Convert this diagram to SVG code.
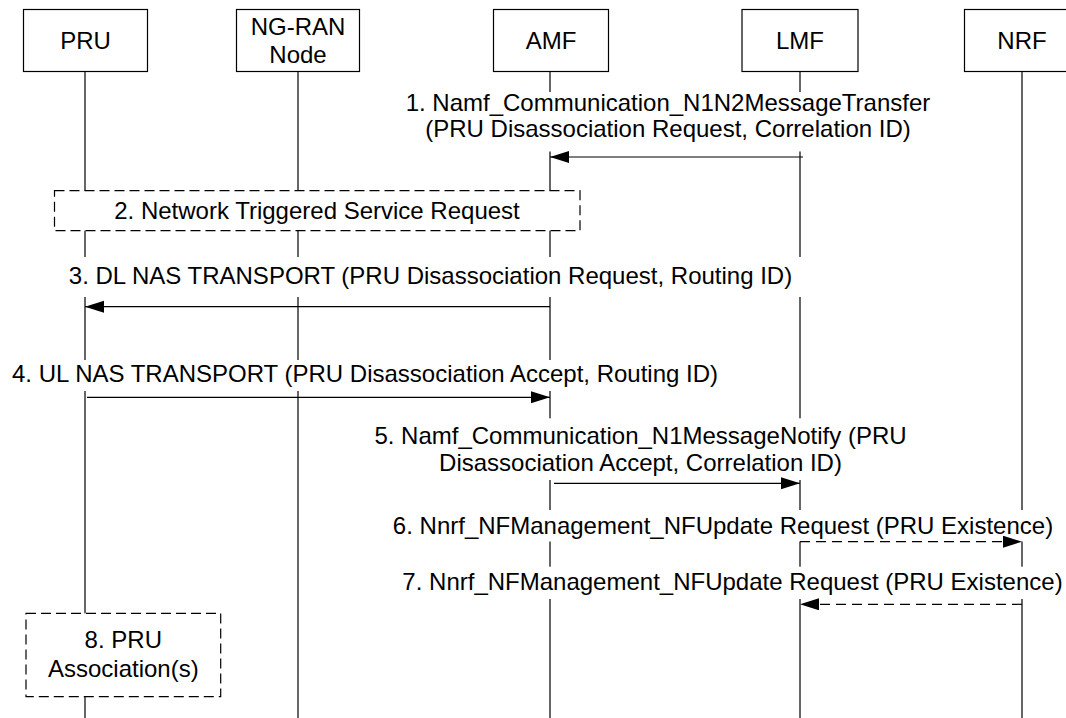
<svg xmlns="http://www.w3.org/2000/svg" width="1066" height="718" viewBox="0 0 1066 718">
  <defs>
    <style>
      .box { fill: #ffffff; stroke: #000000; stroke-width: 1.2; }
      .life { stroke: #000000; stroke-width: 1.2; fill: none; }
      .dbox { fill: #ffffff; stroke: #000000; stroke-width: 1.2; stroke-dasharray: 10 5; }
      .bg { fill: #ffffff; stroke: none; }
      .msg { stroke: #000000; stroke-width: 1.2; fill: none; }
      .dash { stroke-dasharray: 10 6; }
      text { font-family: "Liberation Sans", Arial, sans-serif; font-size: 24px; fill: #000000; }
      .c { text-anchor: middle; }
    </style>
    <marker id="ah" markerUnits="userSpaceOnUse" markerWidth="20" markerHeight="13" refX="19" refY="6" orient="auto">
      <path d="M0,0 L19,6 L0,12 Z" fill="#000000"/>
    </marker>
  </defs>
  <rect width="1066" height="718" fill="#ffffff"/>

  <g id="node-pru">
    <line class="life" x1="85" y1="71.5" x2="85" y2="718"/>
    <rect class="box" x="23.5" y="9.5" width="124" height="62"/>
    <text class="c" x="85.5" y="49">PRU</text>
  </g>
  <g id="node-ngran">
    <line class="life" x1="298" y1="71.5" x2="298" y2="718"/>
    <rect class="box" x="236.5" y="9.5" width="123" height="62"/>
    <text class="c" x="298" y="35">NG-RAN</text>
    <text class="c" x="298" y="62.5">Node</text>
  </g>
  <g id="node-amf">
    <line class="life" x1="550" y1="71.5" x2="550" y2="718"/>
    <rect class="box" x="493.5" y="9.5" width="115" height="62"/>
    <text class="c" x="551" y="49">AMF</text>
  </g>
  <g id="node-lmf">
    <line class="life" x1="800" y1="71.5" x2="800" y2="718"/>
    <rect class="box" x="742" y="9.5" width="116" height="62"/>
    <text class="c" x="800" y="49">LMF</text>
  </g>
  <g id="node-nrf">
    <line class="life" x1="1022" y1="71.5" x2="1022" y2="718"/>
    <rect class="box" x="964.5" y="9.5" width="120" height="62"/>
    <text class="c" x="1022" y="49">NRF</text>
  </g>

  <g id="connectors">
    <g id="msg1">
      <rect class="bg" x="400" y="92" width="535" height="59.5"/>
      <text class="c" x="668" y="110.5">1. Namf_Communication_N1N2MessageTransfer</text>
      <text class="c" x="668" y="136.5">(PRU Disassociation Request, Correlation ID)</text>
      <line class="msg" x1="803" y1="157" x2="550" y2="157" marker-end="url(#ah)"/>
    </g>
    <g id="step2">
      <rect class="dbox" x="54.5" y="190.7" width="525.5" height="40"/>
      <text class="c" x="317" y="219.3">2. Network Triggered Service Request</text>
    </g>
    <g id="msg3">
      <rect class="bg" x="60" y="257" width="746" height="40"/>
      <text class="c" x="430.5" y="283.5">3. DL NAS TRANSPORT (PRU Disassociation Request, Routing ID)</text>
      <line class="msg" x1="550" y1="306.7" x2="85" y2="306.7" marker-end="url(#ah)"/>
    </g>
    <g id="msg4">
      <rect class="bg" x="5" y="360" width="720" height="31"/>
      <text class="c" x="365" y="381.7">4. UL NAS TRANSPORT (PRU Disassociation Accept, Routing ID)</text>
      <line class="msg" x1="87" y1="397.3" x2="550" y2="397.3" marker-end="url(#ah)"/>
    </g>
    <g id="msg5">
      <rect class="bg" x="370" y="418.3" width="540" height="61.7"/>
      <text class="c" x="640.5" y="443.5">5. Namf_Communication_N1MessageNotify (PRU</text>
      <text class="c" x="640.5" y="471">Disassociation Accept, Correlation ID)</text>
      <line class="msg" x1="554" y1="483.3" x2="800" y2="483.3" marker-end="url(#ah)"/>
    </g>
    <g id="msg6">
      <rect class="bg" x="385" y="510" width="677" height="31.5"/>
      <text class="c" x="723" y="534">6. Nnrf_NFManagement_NFUpdate Request (PRU Existence)</text>
      <line class="msg dash" x1="800" y1="541.7" x2="1022" y2="541.7" marker-end="url(#ah)"/>
    </g>
    <g id="msg7">
      <rect class="bg" x="395" y="566.7" width="671" height="32.3"/>
      <text class="c" x="732.5" y="589.5">7. Nnrf_NFManagement_NFUpdate Request (PRU Existence)</text>
      <line class="msg dash" x1="1022" y1="604.3" x2="800" y2="604.3" marker-end="url(#ah)"/>
    </g>
    <g id="step8">
      <rect class="dbox" x="26" y="613.3" width="194.7" height="83.4"/>
      <text class="c" x="123.3" y="648.3">8. PRU</text>
      <text class="c" x="123.3" y="676.7">Association(s)</text>
    </g>
  </g>
</svg>
